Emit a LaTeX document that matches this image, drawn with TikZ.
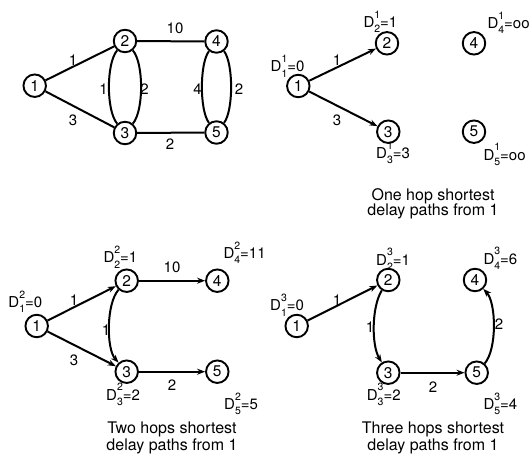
\documentclass[tikz,border=0pt]{standalone}
\usepackage{fontspec}
\setmainfont{TeX Gyre Heros}
\usetikzlibrary{arrows.meta}
\newcommand{\DL}[3]{D\rlap{\raisebox{0.62em}{\fontsize{10.5}{10}\selectfont #2}}\raisebox{-0.36em}{\fontsize{10.5}{10}\selectfont #1}=#3}
\begin{document}
\begin{tikzpicture}[x=1pt,y=-1pt,
  vtx/.style={circle,draw,line width=1.9pt,minimum size=22.5pt,inner sep=0pt,font=\fontsize{15.5}{15.5}\selectfont},
  lnk/.style={line width=2pt},
  arr/.style={line width=2pt,-{Stealth[length=8pt,width=6pt]}},
  wt/.style={inner sep=0pt,font=\fontsize{15}{15}\selectfont},
  dl/.style={anchor=base west,inner sep=0pt,font=\fontsize{15}{15}\selectfont},
  captxt/.style={anchor=base,inner sep=0pt,font=\fontsize{16}{16}\selectfont}]
\useasboundingbox (0,0) rectangle (531,455);
% ---------- full graph ----------
\node[vtx] (a1) at (34.7,85.7) {1};
\node[vtx] (a2) at (125,41) {2};
\node[vtx] (a3) at (125,133) {3};
\node[vtx] (a4) at (216.5,41.5) {4};
\node[vtx] (a5) at (216.5,132.5) {5};
\draw[lnk] (a1) -- (a2);
\draw[lnk] (a1) -- (a3);
\draw[lnk] (a2) -- (a4);
\draw[lnk] (a3) -- (a5);
\draw[lnk] (a2) to[bend right=40,looseness=0.6] (a3);
\draw[lnk] (a2) to[bend left=40,looseness=0.6] (a3);
\draw[lnk] (a4) to[bend right=38,looseness=0.55] (a5);
\draw[lnk] (a4) to[bend left=38,looseness=0.55] (a5);
\node[wt] (wa12) at (73,60) {1};
\node[wt] (wa13) at (73,120) {3};
\node[wt] (wa24) at (175,28) {10};
\node[wt] (wa35) at (170,144) {2};
\node[wt] (wa23l) at (103.5,89) {1};
\node[wt] (wa23r) at (144.5,89) {2};
\node[wt] (wa45l) at (197.5,89) {4};
\node[wt] (wa45r) at (239,89) {2};
% ---------- one hop ----------
\node[vtx] (b1) at (298.3,86) {1};
\node[vtx] (b2) at (387,43.3) {2};
\node[vtx] (b3) at (388.3,131.7) {3};
\node[vtx] (b4) at (474,43.3) {4};
\node[vtx] (b5) at (474,131.7) {5};
\draw[arr] (b1) -- (b2);
\draw[arr] (b1) -- (b3);
\node[wt] (wb12) at (337,60) {1};
\node[wt] (wb13) at (337,120) {3};
\node[dl] (db1) at (270.5,71.7) {\DL{1}{1}{0}};
\node[dl] (db2) at (363.3,27.3) {\DL{2}{1}{1}};
\node[dl] (db4) at (487.3,28.3) {\DL{4}{1}{oo}};
\node[dl] (db3) at (376,158.3) {\DL{3}{1}{3}};
\node[dl] (db5) at (483.3,160) {\DL{5}{1}{oo}};
\node[captxt] (cb1) at (433,200) {One hop shortest};
\node[captxt] (cb2) at (433,215.5) {delay paths from 1};
% ---------- two hops ----------
\node[vtx] (c1) at (36.7,326) {1};
\node[vtx] (c2) at (126.7,280.7) {2};
\node[vtx] (c3) at (126.7,371.7) {3};
\node[vtx] (c4) at (217.3,280.7) {4};
\node[vtx] (c5) at (217.3,371.7) {5};
\draw[arr] (c1) -- (c2);
\draw[arr] (c1) -- (c3);
\draw[arr] (c2) to[bend right=42,looseness=0.65] (c3);
\draw[arr] (c2) -- (c4);
\draw[arr] (c3) -- (c5);
\node[wt] (wc12) at (74,300) {1};
\node[wt] (wc13) at (74,360) {3};
\node[wt] (wc23) at (106,330) {1};
\node[wt] (wc24) at (172,267) {10};
\node[wt] (wc35) at (172,385) {2};
\node[dl] (dc1) at (8.3,307.3) {\DL{1}{2}{0}};
\node[dl] (dc2) at (103.3,262.7) {\DL{2}{2}{1}};
\node[dl] (dc4) at (223.3,258.3) {\DL{4}{2}{11}};
\node[dl] (dc3) at (106,400) {\DL{3}{2}{2}};
\node[dl] (dc5) at (224,409.3) {\DL{5}{2}{5}};
\node[captxt] (cc1) at (172,433.3) {Two hops shortest};
\node[captxt] (cc2) at (172,450) {delay paths from 1};
% ---------- three hops ----------
\node[vtx] (d1) at (296.7,326) {1};
\node[vtx] (d2) at (388.3,280) {2};
\node[vtx] (d3) at (388.3,372.7) {3};
\node[vtx] (d4) at (475,280) {4};
\node[vtx] (d5) at (476.7,372.7) {5};
\draw[arr] (d1) -- (d2);
\draw[arr] (d2) to[bend right=32,looseness=0.7] (d3);
\draw[arr] (d3) -- (d5);
\draw[arr] (d5) to[bend right=42,looseness=0.65] (d4);
\node[wt] (wd12) at (337,300) {1};
\node[wt] (wd23) at (370,327) {1};
\node[wt] (wd54) at (499,324) {2};
\node[wt] (wd35) at (433,387) {2};
\node[dl] (dd1) at (270,310.7) {\DL{1}{3}{0}};
\node[dl] (dd2) at (376,265) {\DL{2}{3}{1}};
\node[dl] (dd4) at (483.3,264) {\DL{4}{3}{6}};
\node[dl] (dd3) at (366.7,400) {\DL{3}{3}{2}};
\node[dl] (dd5) at (483.3,409.3) {\DL{5}{3}{4}};
\node[captxt] (cd1) at (433,433.3) {Three hops shortest};
\node[captxt] (cd2) at (433,450) {delay paths from 1};
\end{tikzpicture}
\end{document}
